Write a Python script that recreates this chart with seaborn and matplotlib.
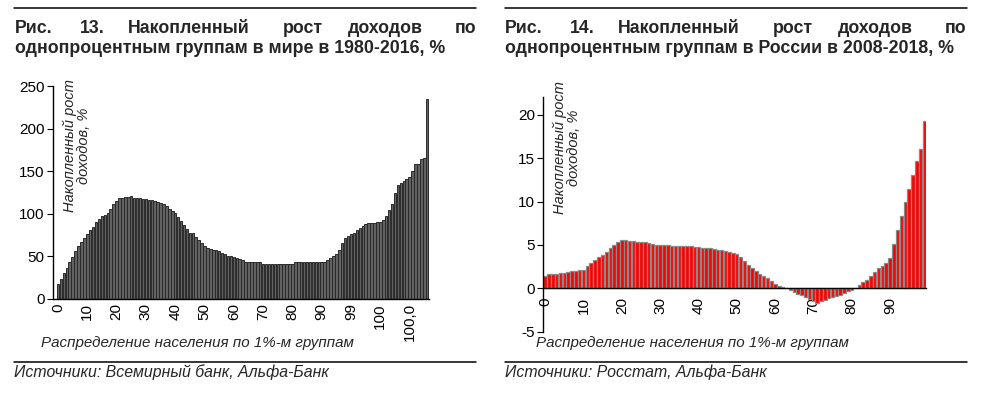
import matplotlib
matplotlib.use("Agg")
import matplotlib.pyplot as plt
from matplotlib.lines import Line2D
import seaborn as sns
import pandas as pd

# ---------------- data ----------------
world_growth = [
    18, 24, 31, 36, 43, 49, 56, 62, 67, 72,
    76, 81, 85, 90, 94, 97, 99, 101, 106, 111,
    115, 118, 119, 120, 120, 121, 119, 118, 118, 117,
    117, 116, 116, 115, 114, 113, 111, 109, 106, 103,
    101, 96, 92, 87, 82, 78, 77, 73, 69, 66,
    62, 60, 59, 58, 57, 56, 54, 53, 51, 50,
    49, 48, 47, 46, 44, 43, 43, 43, 43, 43,
    41, 41, 41, 41, 41, 41, 41, 41, 41, 41,
    41, 43, 43, 43, 43, 43, 43, 43, 43, 43,
    43, 44, 46, 48, 50, 53, 58, 66, 72, 74,
    76, 78, 81, 83, 86, 88, 89, 89, 89, 90,
    90, 93, 97, 104, 111, 124, 134, 136, 139, 141,
    143, 150, 158, 158, 164, 166, 235,
]
world_tick_pos = [0, 10, 20, 30, 40, 50, 60, 70, 80, 90, 100, 110, 120]
world_tick_labels = ["0", "10", "20", "30", "40", "50", "60", "70", "80", "90",
                     "99", "100", "100,0"]
world_yticks = [0, 50, 100, 150, 200, 250]

russia_growth = [
    1.45, 1.6, 1.65, 1.65, 1.75, 1.8, 1.9, 1.95, 2.05, 2.1,
    2.1, 2.6, 2.95, 3.25, 3.6, 3.9, 4.2, 4.6, 5.0, 5.35,
    5.6, 5.6, 5.45, 5.45, 5.35, 5.3, 5.3, 5.2, 5.15, 5.05,
    5.0, 5.0, 4.95, 4.9, 4.9, 4.9, 4.85, 4.85, 4.85, 4.75,
    4.75, 4.7, 4.65, 4.6, 4.5, 4.4, 4.4, 4.35, 4.2, 4.1,
    4.0, 3.6, 3.1, 2.7, 2.35, 1.95, 1.7, 1.45, 1.15, 0.85,
    0.55, 0.3, 0.12, 0.03, -0.15, -0.4, -0.6, -0.8, -1.0, -1.2,
    -1.45, -1.7, -1.5, -1.3, -1.15, -1.0, -0.9, -0.75, -0.55, -0.35,
    -0.15, 0.05, 0.4, 0.7, 1.0, 1.4, 1.9, 2.3, 2.6, 2.95,
    3.45, 5.1, 6.7, 8.3, 9.9, 11.5, 13.1, 14.7, 16.1, 19.3,
]
russia_tick_pos = [0, 10, 20, 30, 40, 50, 60, 70, 80, 90]
russia_tick_labels = ["0", "10", "20", "30", "40", "50", "60", "70", "80", "90"]
russia_yticks = [-5, 0, 5, 10, 15, 20]

title_left_words = ["Рис.", "13.", "Накопленный", "рост", "доходов", "по"]
title_left_line2 = "однопроцентным группам в мире в 1980-2016, %"
title_right_words = ["Рис.", "14.", "Накопленный", "рост", "доходов", "по"]
title_right_line2 = "однопроцентным группам в России в 2008-2018, %"
y_label = "Накопленный рост\nдоходов, %"
x_label = "Распределение населения по 1%-м группам"
source_left = "Источники: Всемирный банк, Альфа-Банк"
source_right = "Источники: Росстат, Альфа-Банк"

# ---------------- style ----------------
sns.set_theme(style="white")
plt.rcParams["font.family"] = ["Liberation Sans", "DejaVu Sans"]
plt.rcParams["axes.unicode_minus"] = False

W, H = 981, 394
fig = plt.figure(figsize=(W / 100, H / 100), dpi=100)


def fx(px):
    return px / W


def fy(py):
    return 1 - py / H


def style_axes(ax, xpad):
    for s in ["top", "right"]:
        ax.spines[s].set_visible(False)
    for s in ["left", "bottom"]:
        ax.spines[s].set_color("black")
        ax.spines[s].set_linewidth(1.0)
    ax.tick_params(axis="y", left=True, direction="out", length=4, width=0.8,
                   color="black", labelsize=11, labelcolor="black", pad=2)
    ax.tick_params(axis="x", bottom=False, length=0, labelsize=11,
                   labelcolor="black", pad=xpad, labelrotation=90)
    ax.set_xlabel("")
    ax.set_ylabel("")
    ax.set_facecolor("white")


# ---------------- left chart ----------------
ax1 = fig.add_axes([fx(53), fy(299), (429 - 53) / W, (299 - 86) / H])
df1 = pd.DataFrame({"g": range(len(world_growth)), "v": world_growth})
sns.barplot(data=df1, x="g", y="v", ax=ax1, color="#626262", saturation=1,
            width=0.85, edgecolor="#2a2a2a", linewidth=0.7, errorbar=None)
ax1.set_xlim(-1.7, len(world_growth) - 0.4)
ax1.set_ylim(0, 250)
ax1.set_yticks(world_yticks)
ax1.set_xticks(world_tick_pos)
ax1.set_xticklabels(world_tick_labels)
style_axes(ax1, 3)

# ---------------- right chart ----------------
ax2 = fig.add_axes([fx(543.3), fy(331.7), (926.4 - 543.3) / W, (331.7 - 96.7) / H])
df2 = pd.DataFrame({"g": range(len(russia_growth)), "v": russia_growth})
sns.barplot(data=df2, x="g", y="v", ax=ax2, color="#ff0000", saturation=1,
            width=0.9, edgecolor="#8a8a8a", linewidth=0.9, errorbar=None)
ax2.spines["bottom"].set_position(("data", 0))
ax2.spines["bottom"].set_zorder(5)
ax2.set_xlim(-0.5, len(russia_growth) - 0.5)
ax2.set_ylim(-5, 22.1)
ax2.set_yticks(russia_yticks)
ax2.set_xticks(russia_tick_pos)
ax2.set_xticklabels(russia_tick_labels)
style_axes(ax2, 6.5)

# ---------------- y labels inside plots ----------------
fig.text(fx(77), fy(146), y_label, rotation=90, ha="center", va="center",
         style="italic", fontsize=10.5, multialignment="center", linespacing=1.0)
fig.text(fx(567), fy(148), y_label, rotation=90, ha="center", va="center",
         style="italic", fontsize=10.5, multialignment="center", linespacing=1.0)

# ---------------- x labels ----------------
fig.text(fx(40.7), fy(347.3), x_label, ha="left", va="baseline",
         style="italic", fontsize=10.9)
fig.text(fx(535.7), fy(346.7), x_label, ha="left", va="baseline",
         style="italic", fontsize=10.9)

# ---------------- titles (justified first line) ----------------
left_x = [15, 80, 128, 283, 348, 476]
right_x = [505, 570, 618, 773, 838, 966]
for words, xs, line2, x0 in [(title_left_words, left_x, title_left_line2, 15),
                             (title_right_words, right_x, title_right_line2, 505)]:
    for i, (w, xp) in enumerate(zip(words, xs)):
        ha = "right" if i == len(words) - 1 else "left"
        fig.text(fx(xp), fy(33), w, ha=ha, va="baseline", fontsize=12.8,
                 fontweight="bold")
    fig.text(fx(x0), fy(52.7), line2, ha="left", va="baseline", fontsize=12.8,
             fontweight="bold")

# ---------------- sources ----------------
fig.text(fx(14), fy(377), source_left, ha="left", va="baseline",
         style="italic", fontsize=11.4)
fig.text(fx(505), fy(377), source_right, ha="left", va="baseline",
         style="italic", fontsize=11.4)

# ---------------- separator lines ----------------
for (x0, x1, y) in [(14, 476, 8), (505, 967, 8), (14, 476, 361.5), (505, 967, 361.5)]:
    fig.add_artist(Line2D([fx(x0), fx(x1)], [fy(y), fy(y)], color="black",
                          linewidth=1.1, transform=fig.transFigure))

fig.savefig("out.png", dpi=100, facecolor="white")
